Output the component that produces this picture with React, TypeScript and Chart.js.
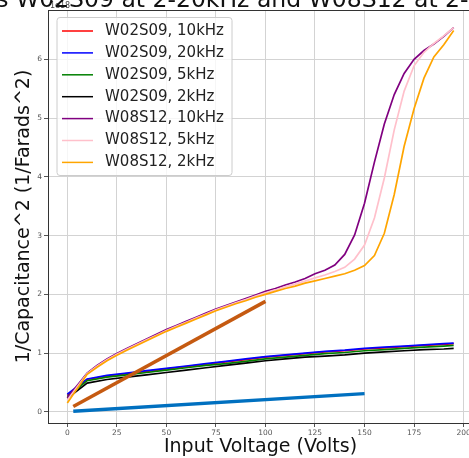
import React, { useEffect, useRef } from "react";
import { Chart, registerables } from "chart.js";

Chart.register(...registerables);

// ---- Data ----
const voltsW02 = [0, 10, 20, 30, 40, 50, 60, 70, 80, 90, 100, 110, 120, 130, 140, 150, 160, 170, 180, 190, 195];
const w02_10k = [0.28, 0.55, 0.61, 0.65, 0.69, 0.73, 0.77, 0.81, 0.85, 0.89, 0.93, 0.96, 0.99, 1.02, 1.04, 1.07, 1.09, 1.11, 1.13, 1.15, 1.16];
const w02_20k = [0.30, 0.56, 0.62, 0.66, 0.70, 0.74, 0.78, 0.82, 0.86, 0.90, 0.94, 0.97, 1.00, 1.03, 1.05, 1.08, 1.10, 1.12, 1.14, 1.16, 1.17];
const w02_5k = [0.26, 0.53, 0.59, 0.63, 0.67, 0.71, 0.75, 0.79, 0.82, 0.86, 0.90, 0.93, 0.96, 0.99, 1.01, 1.04, 1.06, 1.08, 1.10, 1.12, 1.13];
const w02_2k = [0.23, 0.49, 0.55, 0.59, 0.63, 0.67, 0.71, 0.75, 0.79, 0.83, 0.87, 0.90, 0.93, 0.95, 0.97, 1.00, 1.02, 1.04, 1.06, 1.07, 1.08];

const voltsW08 = [0, 10, 15, 20, 25, 30, 35, 40, 45, 50, 55, 60, 65, 70, 75, 80, 85, 90, 95, 100, 105, 110, 115, 120, 125, 130, 135, 140, 145, 150, 155, 160, 165, 170, 175, 180, 185, 190, 195];
const w08_10k = [0.24, 0.66, 0.79, 0.90, 0.995, 1.08, 1.16, 1.24, 1.32, 1.40, 1.47, 1.54, 1.61, 1.68, 1.75, 1.81, 1.87, 1.93, 1.99, 2.05, 2.10, 2.16, 2.21, 2.27, 2.35, 2.41, 2.50, 2.68, 3.01, 3.55, 4.25, 4.90, 5.40, 5.76, 6.00, 6.15, 6.26, 6.39, 6.54];
const w08_5k = [0.20, 0.65, 0.775, 0.885, 0.98, 1.065, 1.145, 1.225, 1.305, 1.385, 1.455, 1.525, 1.595, 1.665, 1.735, 1.795, 1.855, 1.91, 1.97, 2.025, 2.075, 2.13, 2.175, 2.225, 2.28, 2.33, 2.39, 2.46, 2.60, 2.84, 3.30, 3.98, 4.80, 5.46, 5.89, 6.12, 6.27, 6.40, 6.54];
const w08_2k = [0.15, 0.64, 0.76, 0.87, 0.965, 1.05, 1.13, 1.21, 1.29, 1.37, 1.44, 1.51, 1.58, 1.65, 1.72, 1.78, 1.84, 1.89, 1.95, 2.00, 2.05, 2.10, 2.14, 2.19, 2.23, 2.27, 2.31, 2.35, 2.41, 2.49, 2.66, 3.04, 3.70, 4.52, 5.16, 5.68, 6.04, 6.25, 6.49];

const fitVoltsA = [3, 100];
const fitValuesA = [0.09, 1.88];
const fitVoltsB = [3, 150];
const fitValuesB = [0.01, 0.31];

const seriesLabels = [
  "W02S09, 10kHz",
  "W02S09, 20kHz",
  "W02S09, 5kHz",
  "W02S09, 2kHz",
  "W08S12, 10kHz",
  "W08S12, 5kHz",
  "W08S12, 2kHz",
];
const seriesColors = ["#ff0000", "#0000ff", "#008000", "#000000", "#800080", "#ffc0cb", "#ffa500"];
const fitColors = ["#c55a11", "#0070c0"];

const xTickStep = 25;
const yTickStep = 1;

const titleText = "Curves W02S09 at 2-20kHz and W08S12 at 2-10kHz";
const xTitle = "Input Voltage (Volts)";
const yTitle = "1/Capacitance^2 (1/Farads^2)";
const offsetText = "1e18";

const pts = (xs: number[], ys: number[]) => xs.map((x, i) => ({ x, y: ys[i] }));

const FONT = "'DejaVu Sans', sans-serif";

const framePlugin = {
  id: "frame",
  afterDatasetsDraw(chart: any) {
    const { ctx, chartArea: a } = chart;
    ctx.save();
    ctx.strokeStyle = "#333333";
    ctx.lineWidth = 1;
    ctx.strokeRect(a.left + 0.5, a.top + 0.5, a.right - a.left, a.bottom - a.top);
    ctx.restore();
  },
};

const legendPlugin = {
  id: "mplLegend",
  afterDraw(chart: any) {
    const { ctx, chartArea: a } = chart;
    const items = chart.data.datasets.filter((d: any) => d.inLegend);
    const x0 = a.left + 9;
    const y0 = a.top + 7.5;
    const w = 175;
    const rowH = 21.9;
    const h = 158;
    ctx.save();
    ctx.beginPath();
    const r = 3;
    ctx.moveTo(x0 + r, y0);
    ctx.lineTo(x0 + w - r, y0);
    ctx.quadraticCurveTo(x0 + w, y0, x0 + w, y0 + r);
    ctx.lineTo(x0 + w, y0 + h - r);
    ctx.quadraticCurveTo(x0 + w, y0 + h, x0 + w - r, y0 + h);
    ctx.lineTo(x0 + r, y0 + h);
    ctx.quadraticCurveTo(x0, y0 + h, x0, y0 + h - r);
    ctx.lineTo(x0, y0 + r);
    ctx.quadraticCurveTo(x0, y0, x0 + r, y0);
    ctx.closePath();
    ctx.fillStyle = "rgba(255,255,255,0.8)";
    ctx.fill();
    ctx.strokeStyle = "#cccccc";
    ctx.lineWidth = 1;
    ctx.stroke();
    ctx.font = `15px ${FONT}`;
    ctx.textBaseline = "middle";
    ctx.textAlign = "left";
    items.forEach((d: any, i: number) => {
      const yc = y0 + 13.5 + i * rowH;
      ctx.strokeStyle = d.borderColor;
      ctx.lineWidth = 1.5;
      ctx.beginPath();
      ctx.moveTo(x0 + 5, yc);
      ctx.lineTo(x0 + 36, yc);
      ctx.stroke();
      ctx.fillStyle = "#222222";
      ctx.fillText(d.label, x0 + 48, yc);
    });
    ctx.restore();
  },
};

const titlePlugin = {
  id: "mplTitle",
  afterDraw(chart: any) {
    const { ctx, chartArea: a } = chart;
    ctx.save();
    ctx.font = `8px ${FONT}`;
    ctx.fillStyle = "#444444";
    ctx.textAlign = "left";
    ctx.textBaseline = "alphabetic";
    ctx.fillText(offsetText, a.left + 2, 8);
    ctx.font = `23.5px ${FONT}`;
    ctx.fillStyle = "#111111";
    ctx.textAlign = "center";
    ctx.fillText(titleText, 234.5, 7);
    ctx.restore();
  },
};

export default function App() {
  const canvasRef = useRef<HTMLCanvasElement | null>(null);

  useEffect(() => {
    if (!canvasRef.current) return;
    const seriesData = [
      pts(voltsW02, w02_10k),
      pts(voltsW02, w02_20k),
      pts(voltsW02, w02_5k),
      pts(voltsW02, w02_2k),
      pts(voltsW08, w08_10k),
      pts(voltsW08, w08_5k),
      pts(voltsW08, w08_2k),
    ];
    const datasets: any[] = seriesData.map((data, i) => ({
      label: seriesLabels[i],
      data,
      borderColor: seriesColors[i],
      backgroundColor: seriesColors[i],
      borderWidth: 1.7,
      pointRadius: 0,
      tension: 0,
      fill: false,
      inLegend: true,
    }));
    datasets.push({
      label: "fit A",
      data: pts(fitVoltsA, fitValuesA),
      borderColor: fitColors[0],
      borderWidth: 3.5,
      pointRadius: 0,
      fill: false,
      inLegend: false,
    });
    datasets.push({
      label: "fit B",
      data: pts(fitVoltsB, fitValuesB),
      borderColor: fitColors[1],
      borderWidth: 3.5,
      pointRadius: 0,
      fill: false,
      inLegend: false,
    });
    const n = datasets.length;
    datasets.forEach((d, i) => (d.order = n - i));

    const chart = new Chart(canvasRef.current, {
      type: "line",
      data: { datasets },
      options: {
        animation: false,
        responsive: false,
        devicePixelRatio: 1,
        layout: { padding: { top: 10, right: 7, left: 0, bottom: 0 } },
        plugins: { legend: { display: false }, tooltip: { enabled: false }, title: { display: false } },
        scales: {
          x: {
            type: "linear",
            min: -9.75,
            max: 204.75,
            afterFit: (s: any) => {
              s.height = 35;
            },
            ticks: {
              stepSize: xTickStep,
              includeBounds: false,
              font: { size: 7.5, family: FONT },
              color: "#555555",
              padding: 2,
              maxRotation: 0,
            },
            grid: { color: "#d3d3d3", lineWidth: 1, tickLength: 4, tickColor: "#555555" },
            border: { display: false },
            title: {
              display: true,
              text: xTitle,
              font: { size: 19, family: FONT },
              color: "#111111",
              padding: { top: 0, bottom: 0 },
            },
          },
          y: {
            type: "linear",
            min: -0.19,
            max: 6.84,
            afterFit: (s: any) => {
              s.width = 48;
            },
            ticks: {
              stepSize: yTickStep,
              includeBounds: false,
              font: { size: 7.5, family: FONT },
              color: "#555555",
              padding: 2,
            },
            grid: { color: "#d3d3d3", lineWidth: 1, tickLength: 4, tickColor: "#555555" },
            border: { display: false },
            title: {
              display: true,
              text: yTitle,
              font: { size: 19, family: FONT },
              color: "#111111",
              padding: { top: 13, bottom: 0 },
            },
          },
        },
      },
      plugins: [framePlugin, legendPlugin, titlePlugin],
    });
    return () => chart.destroy();
  }, []);

  return (
    <div style={{ position: "fixed", left: 0, top: 0, width: 469, height: 458, overflow: "hidden", background: "#ffffff" }}>
      <canvas ref={canvasRef} width={480} height={458} style={{ display: "block" }} />
    </div>
  );
}
